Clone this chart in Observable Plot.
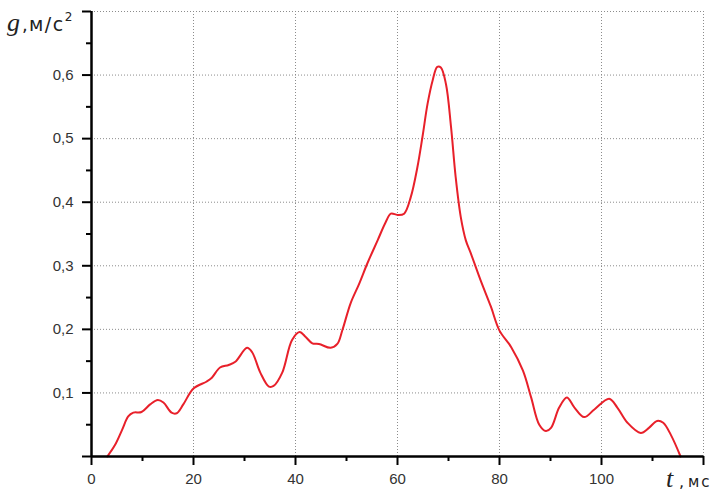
<!DOCTYPE html>
<html>
<head>
<meta charset="utf-8">
<script src="https://cdn.jsdelivr.net/npm/d3@7"></script>
<script src="https://cdn.jsdelivr.net/npm/@observablehq/plot@0.6"></script>
<style>
  html, body { margin: 0; padding: 0; background: white; }
</style>
</head>
<body>
<div id="chart"></div>
<script>
// time, ms
const t = [3.1, 4.6, 6.0, 7.2, 8.2, 9.8, 11.5, 13.0, 14.1, 15.7, 16.7, 18.0, 20.0, 22.6, 23.6, 25.2, 26.9, 28.2, 30.5, 31.5, 33.1, 34.8, 35.7, 37.4, 39.3, 40.8, 42.0, 43.3, 44.6, 46.9, 48.2, 49.2, 50.8, 52.5, 54.1, 56.1, 57.7, 58.7, 60.0, 61.3, 62.6, 63.9, 64.9, 65.9, 66.9, 67.8, 68.5, 69.5, 70.5, 71.4, 72.4, 73.4, 74.4, 76.3, 78.3, 80.0, 82.3, 84.6, 86.2, 87.8, 89.1, 90.1, 91.7, 93.2, 94.7, 96.6, 98.6, 101.5, 103.1, 105.1, 107.7, 109.3, 110.9, 112.1, 113.6, 115.5];
// acceleration g, m/s^2
const g = [0.0, 0.018, 0.042, 0.063, 0.069, 0.070, 0.082, 0.089, 0.085, 0.069, 0.068, 0.082, 0.107, 0.118, 0.124, 0.140, 0.144, 0.149, 0.171, 0.164, 0.132, 0.110, 0.111, 0.132, 0.183, 0.196, 0.188, 0.178, 0.177, 0.171, 0.177, 0.199, 0.241, 0.272, 0.304, 0.340, 0.369, 0.382, 0.380, 0.382, 0.408, 0.455, 0.503, 0.555, 0.592, 0.613, 0.612, 0.586, 0.518, 0.440, 0.377, 0.340, 0.319, 0.277, 0.236, 0.198, 0.172, 0.135, 0.093, 0.050, 0.040, 0.045, 0.077, 0.093, 0.077, 0.062, 0.074, 0.091, 0.077, 0.053, 0.037, 0.045, 0.056, 0.053, 0.034, 0.0];

const xTicks = [0, 20, 40, 60, 80, 100, 120];
const xTickLabels = ["0", "20", "40", "60", "80", "100", ""];
const xMinorTicks = [10, 30, 50, 70, 90, 110];
const yTicks = [0, 0.1, 0.2, 0.3, 0.4, 0.5, 0.6, 0.7];
const yTickLabels = ["", "0,1", "0,2", "0,3", "0,4", "0,5", "0,6", ""];
const yMinorTicks = [0.05, 0.15, 0.25, 0.35, 0.45, 0.55, 0.65];
const xGrid = [20, 40, 60, 80, 100, 120];
const yGrid = [0.1, 0.2, 0.3, 0.4, 0.5, 0.6, 0.7];

const data = t.map((v, i) => ({t: v, g: g[i]}));

const gridStyle = {stroke: "#8c8c8c", strokeOpacity: 1, strokeWidth: 1, strokeDasharray: "1,2"};

const chart = Plot.plot({
  width: 713,
  height: 493,
  marginLeft: 91,
  marginRight: 10,
  marginTop: 11,
  marginBottom: 37,
  x: {domain: [0, 120]},
  y: {domain: [0, 0.7]},
  style: {fontFamily: "'Liberation Sans', Arial, sans-serif", fontSize: "15px", color: "#333", background: "white", overflow: "visible"},
  marks: [
    Plot.gridX(xGrid, gridStyle),
    Plot.gridY(yGrid, gridStyle),
    Plot.line(data, {x: "t", y: "g", stroke: "#e8202a", strokeWidth: 2, curve: "catmull-rom"}),
    Plot.axisX(xTicks, {label: null, tickSize: 9, tickPadding: 8, stroke: "black", strokeWidth: 2, tickFormat: (d) => xTickLabels[xTicks.indexOf(d)]}),
    Plot.axisX(xMinorTicks, {label: null, tickSize: 5, stroke: "black", strokeWidth: 2, tickFormat: () => ""}),
    Plot.axisY(yTicks, {label: null, tickSize: 9, tickPadding: 9, stroke: "black", strokeWidth: 2, tickFormat: (d) => yTickLabels[yTicks.indexOf(d)]}),
    Plot.axisY(yMinorTicks, {label: null, tickSize: 5, stroke: "black", strokeWidth: 2, tickFormat: () => ""}),
    Plot.ruleX([0], {stroke: "black", strokeWidth: 2.5}),
    Plot.ruleY([0], {stroke: "black", strokeWidth: 2.5})
  ]
});

const svg = d3.select(chart);
const serif = "'Liberation Serif', 'Times New Roman', serif";
const sans = "'DejaVu Sans', Verdana, sans-serif";
// y-axis title: g, м/с²
const yt = svg.append("text").attr("y", 31).attr("text-anchor", "start").attr("fill", "#222");
yt.append("tspan").attr("x", 7).style("font-family", serif).style("font-style", "italic").style("font-size", "26px").text("g");
yt.append("tspan").attr("x", 22).style("font-family", sans).style("font-size", "18px").text(",");
yt.append("tspan").attr("x", 29).style("font-family", sans).style("font-size", "19px").style("letter-spacing", "1.5px").text("м/с");
yt.append("tspan").attr("dy", -10).style("font-family", sans).style("font-size", "12px").text("2");
// x-axis title: t, мс
const xt = svg.append("text").attr("y", 487).attr("text-anchor", "start").attr("fill", "#222");
xt.append("tspan").attr("x", 666).style("font-family", serif).style("font-style", "italic").style("font-size", "26px").text("t");
xt.append("tspan").attr("x", 679).style("font-family", sans).style("font-size", "16px").text(",");
xt.append("tspan").attr("x", 688).style("font-family", sans).style("font-size", "15px").style("letter-spacing", "2px").text("мс");

document.getElementById("chart").appendChild(chart);
</script>
</body>
</html>
